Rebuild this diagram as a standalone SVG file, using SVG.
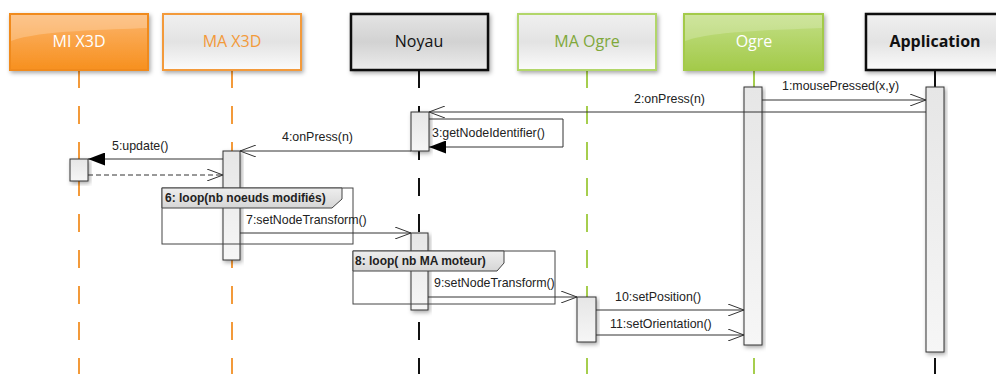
<svg xmlns="http://www.w3.org/2000/svg" width="996" height="374" viewBox="0 0 996 374">
<defs>
<filter id="sh" x="-20%" y="-20%" width="140%" height="140%"><feDropShadow dx="1.5" dy="2" stdDeviation="2" flood-color="#000" flood-opacity="0.35"/></filter>
<linearGradient id="gOr" x1="0" y1="0" x2="0" y2="1"><stop offset="0" stop-color="#fcb56d"/><stop offset="1" stop-color="#f7901e"/></linearGradient>
<linearGradient id="gGr" x1="0" y1="0" x2="0" y2="1"><stop offset="0" stop-color="#c3df86"/><stop offset="1" stop-color="#a3ca4a"/></linearGradient>
<linearGradient id="gLt" x1="0" y1="0" x2="0" y2="1"><stop offset="0" stop-color="#f0f0f0"/><stop offset="0.5" stop-color="#e3e3e3"/><stop offset="1" stop-color="#fbfbfb"/></linearGradient>
<linearGradient id="gNy" x1="0" y1="0" x2="0" y2="1"><stop offset="0" stop-color="#e4e4e4"/><stop offset="0.5" stop-color="#d2d2d2"/><stop offset="1" stop-color="#ececec"/></linearGradient>
<linearGradient id="gAct" x1="0" y1="0" x2="0" y2="1"><stop offset="0" stop-color="#e6e6e6"/><stop offset="1" stop-color="#f6f6f6"/></linearGradient>
<linearGradient id="gHd" x1="0" y1="0" x2="0" y2="1"><stop offset="0" stop-color="#eeeeee"/><stop offset="1" stop-color="#d6d6d6"/></linearGradient>
<marker id="open" viewBox="0 0 16 12" refX="16" refY="6" markerWidth="16" markerHeight="12" markerUnits="userSpaceOnUse" orient="auto"><path d="M0,0 L16,6 L0,12" fill="none" stroke="#333" stroke-width="1"/></marker>
<marker id="fill" viewBox="0 0 17 13" refX="17" refY="6.5" markerWidth="17" markerHeight="13" markerUnits="userSpaceOnUse" orient="auto"><path d="M0,0 L17,6.5 L0,13 z" fill="#000"/></marker>
</defs>
<style>
.hd{font-family:"Open Sans","DejaVu Sans",sans-serif;font-size:16px;text-anchor:middle}
.lbl{font-family:"Liberation Sans",Arial,sans-serif;font-size:12.4px;fill:#222}
.lp{font-family:"Liberation Sans",Arial,sans-serif;font-size:12px;font-weight:bold;fill:#222}
.ll{fill:none;stroke-width:2;stroke-dasharray:18 18}
.act{fill:url(#gAct);stroke:#333;stroke-width:1;filter:url(#sh)}
.msg{fill:none;stroke:#333;stroke-width:1}
.frm{fill:none;stroke:#444;stroke-width:1}
.fh{fill:url(#gHd);stroke:#444;stroke-width:1}
</style>

<g id="lifelines">
<line class="ll" x1="79" y1="70" x2="79" y2="374" stroke="#f39a3a"/>
<line class="ll" x1="232" y1="70" x2="232" y2="374" stroke="#f39a3a"/>
<line class="ll" x1="419" y1="70" x2="419" y2="374" stroke="#111"/>
<line class="ll" x1="587" y1="70" x2="587" y2="374" stroke="#a6ce4e"/>
<line class="ll" x1="754" y1="70" x2="754" y2="374" stroke="#a6ce4e"/>
<line class="ll" x1="935" y1="70" x2="935" y2="374" stroke="#111"/>
</g>

<g id="n-mix3d">
<rect x="10" y="14" width="138" height="56" fill="url(#gOr)" stroke="#f08a1c" stroke-width="2" filter="url(#sh)"/>
<path d="M11,15 H147 V28 C110,30 40,30 11,41 Z" fill="#fff" opacity="0.22"/>
<text class="hd" x="79" y="47" fill="#fff">MI X3D</text>
</g>
<g id="n-max3d">
<rect x="163" y="14" width="138" height="56" fill="url(#gLt)" stroke="#f39a3a" stroke-width="2" filter="url(#sh)"/>
<text class="hd" x="232" y="47" fill="#f39a3a">MA X3D</text>
</g>
<g id="n-noyau">
<rect x="351" y="14" width="137" height="56" fill="url(#gNy)" stroke="#111" stroke-width="2.5" filter="url(#sh)"/>
<text class="hd" x="419" y="47" fill="#111">Noyau</text>
</g>
<g id="n-maogre">
<rect x="518" y="14" width="138" height="56" fill="url(#gLt)" stroke="#b2d66a" stroke-width="2" filter="url(#sh)"/>
<text class="hd" x="587" y="47" fill="#7fa83a">MA Ogre</text>
</g>
<g id="n-ogre">
<rect x="684" y="14" width="139" height="56" fill="url(#gGr)" stroke="#a3ca4a" stroke-width="2" filter="url(#sh)"/>
<path d="M685,15 H822 V28 C785,30 715,30 685,41 Z" fill="#fff" opacity="0.2"/>
<text class="hd" x="754" y="47" fill="#fff">Ogre</text>
</g>
<g id="n-application">
<rect x="866" y="14" width="138" height="56" fill="url(#gLt)" stroke="#111" stroke-width="2.5" filter="url(#sh)"/>
<text class="hd" x="935" y="47" fill="#111" font-weight="bold">Application</text>
</g>

<g id="activations">
<rect class="act" x="744" y="87" width="18" height="258"/>
<rect class="act" x="926" y="87" width="18" height="265"/>
<rect class="act" x="411" y="112" width="18" height="39"/>
<rect class="act" x="223" y="151" width="17" height="109"/>
<rect class="act" x="70" y="159" width="18" height="22"/>
<rect class="act" x="411" y="233" width="17" height="77"/>
<rect class="act" x="577" y="297" width="19" height="45"/>
</g>

<g id="frames">
<rect class="frm" x="162" y="188" width="191" height="56"/>
<path class="fh" d="M162,188 H342 V199 L332,208 H162 Z"/>
<text class="lp" x="165" y="202">6: loop(nb noeuds modifiés)</text>
<rect class="frm" x="353" y="251" width="202" height="53"/>
<path class="fh" d="M353,251 H504 V263 L497,271 H353 Z"/>
<text class="lp" x="355" y="265">8: loop( nb MA moteur)</text>
</g>

<g id="connectors">
<line class="msg" x1="762" y1="100" x2="926" y2="100" marker-end="url(#open)"/>
<text class="lbl" x="782" y="90">1:mousePressed(x,y)</text>
<line class="msg" x1="926" y1="112" x2="429" y2="112" marker-end="url(#open)"/>
<text class="lbl" x="634" y="103">2:onPress(n)</text>
<polyline class="msg" points="429,119 563,119 563,147 429,147" marker-end="url(#fill)"/>
<text class="lbl" x="432" y="137">3:getNodeIdentifier()</text>
<line class="msg" x1="411" y1="151" x2="240" y2="151" marker-end="url(#open)"/>
<text class="lbl" x="282" y="141">4:onPress(n)</text>
<line class="msg" x1="223" y1="159" x2="88" y2="159" marker-end="url(#fill)"/>
<text class="lbl" x="112" y="150">5:update()</text>
<line class="msg" x1="88" y1="175" x2="223" y2="175" stroke-dasharray="5 3" marker-end="url(#open)"/>
<line class="msg" x1="240" y1="233" x2="411" y2="233" marker-end="url(#open)"/>
<text class="lbl" x="246" y="224">7:setNodeTransform()</text>
<line class="msg" x1="428" y1="297" x2="577" y2="297" marker-end="url(#open)"/>
<text class="lbl" x="434" y="287">9:setNodeTransform()</text>
<line class="msg" x1="596" y1="310" x2="744" y2="310" marker-end="url(#open)"/>
<text class="lbl" x="615" y="301">10:setPosition()</text>
<line class="msg" x1="596" y1="335" x2="744" y2="335" marker-end="url(#open)"/>
<text class="lbl" x="610" y="328">11:setOrientation()</text>
</g>
</svg>
